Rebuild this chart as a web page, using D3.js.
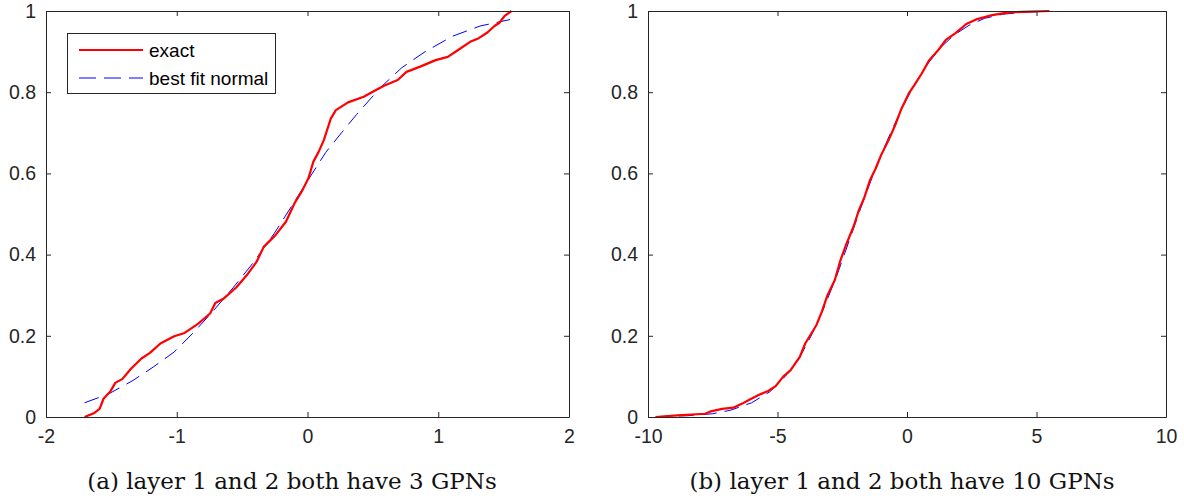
<!DOCTYPE html>
<html>
<head>
<meta charset="utf-8">
<script src="https://cdn.jsdelivr.net/npm/d3@7"></script>
<style>
  body { margin: 0; background: #fff; }
  svg { display: block; }
</style>
</head>
<body>
<script>
// panel (a): values
const exactAX = [-1.705, -1.63, -1.59, -1.56, -1.51, -1.47, -1.415, -1.35, -1.27, -1.205, -1.125, -1.02, -0.94, -0.835, -0.745, -0.705, -0.64, -0.545, -0.465, -0.39, -0.335, -0.245, -0.165, -0.1, -0.045, 0.007, 0.045, 0.085, 0.125, 0.178, 0.217, 0.31, 0.43, 0.52, 0.585, 0.69, 0.757, 0.862, 0.98, 1.073, 1.152, 1.244, 1.31, 1.376, 1.43, 1.468, 1.508, 1.56];
const exactAY = [0, 0.01, 0.02, 0.045, 0.062, 0.084, 0.094, 0.119, 0.144, 0.158, 0.181, 0.199, 0.207, 0.23, 0.255, 0.281, 0.292, 0.319, 0.349, 0.382, 0.419, 0.448, 0.481, 0.526, 0.555, 0.588, 0.629, 0.653, 0.682, 0.735, 0.756, 0.775, 0.789, 0.805, 0.816, 0.83, 0.85, 0.863, 0.879, 0.887, 0.904, 0.924, 0.933, 0.947, 0.963, 0.971, 0.988, 1.0];
const normalAX = [-1.705, -1.52, -1.335, -1.18, -1.02, -0.86, -0.73, -0.57, -0.415, -0.255, -0.1, 0.007, 0.14, 0.26, 0.375, 0.56, 0.72, 0.9, 1.11, 1.32, 1.55];
const normalAY = [0.035, 0.057, 0.09, 0.123, 0.16, 0.212, 0.258, 0.318, 0.38, 0.452, 0.53, 0.585, 0.652, 0.7, 0.745, 0.812, 0.86, 0.9, 0.938, 0.963, 0.979];

// panel (b)
const exactBX = [-9.71, -8.86, -7.79, -7.57, -7.14, -6.71, -6.36, -6.07, -5.71, -5.36, -5.07, -4.79, -4.5, -4.14, -3.93, -3.5, -3.29, -3.07, -2.79, -2.57, -2.36, -2.07, -1.86, -1.64, -1.43, -1.21, -1.0, -0.71, -0.43, -0.21, 0.07, 0.29, 0.57, 0.86, 1.21, 1.5, 1.86, 2.29, 2.71, 3.29, 3.86, 4.43, 5.5];
const exactBY = [0, 0.004, 0.008, 0.014, 0.02, 0.023, 0.033, 0.043, 0.055, 0.064, 0.076, 0.099, 0.115, 0.148, 0.181, 0.226, 0.259, 0.3, 0.337, 0.386, 0.423, 0.468, 0.509, 0.542, 0.583, 0.612, 0.645, 0.682, 0.723, 0.76, 0.797, 0.818, 0.846, 0.879, 0.904, 0.929, 0.945, 0.968, 0.98, 0.99, 0.996, 0.998, 1.0];
const normalBX = [-9.7, -8.5, -7.5, -6.8, -6.0, -5.3, -4.7, -4.2, -3.7, -3.2, -2.7, -2.2, -1.7, -1.2, -0.7, -0.2, 0.3, 0.8, 1.3, 1.8, 2.4, 3.0, 3.7, 4.5, 5.4];
const normalBY = [0.001, 0.003, 0.008, 0.017, 0.035, 0.062, 0.1, 0.14, 0.2, 0.27, 0.35, 0.44, 0.53, 0.615, 0.69, 0.76, 0.82, 0.87, 0.91, 0.94, 0.965, 0.982, 0.992, 0.997, 0.999];

const ticksAX = [-2, -1, 0, 1, 2];
const ticksBX = [-10, -5, 0, 5, 10];
const ticksY = [0, 0.2, 0.4, 0.6, 0.8, 1];
const seriesNames = ["exact", "best fit normal"];
const captions = ["(a) layer 1 and 2 both have 3 GPNs", "(b) layer 1 and 2 both have 10 GPNs"];

const W = 1184, H = 501;
const axisColor = "#262626";

const svg = d3.select("body").append("svg")
  .attr("width", W)
  .attr("height", H);

const panels = [
  { x0: 46, x1: 569, dom: [-2, 2], ticks: ticksAX, ex: exactAX, ey: exactAY, nx: normalAX, ny: normalAY, cap: captions[0], capX: 292, legend: true },
  { x0: 648, x1: 1166, dom: [-10, 10], ticks: ticksBX, ex: exactBX, ey: exactBY, nx: normalBX, ny: normalBY, cap: captions[1], capX: 902, legend: false }
];
const plotTop = 11, plotBottom = 417;

// matlab style labels: plain hyphen for negatives
const fmt = d => String(d);

panels.forEach(p => {
  const x = d3.scaleLinear().domain(p.dom).range([p.x0, p.x1]);
  const y = d3.scaleLinear().domain([0, 1]).range([plotBottom, plotTop]);
  const g = svg.append("g");

  const line = d3.line().x(d => x(d[0])).y(d => y(d[1]));

  // fitted normal, dashed blue
  g.append("path")
    .datum(d3.zip(p.nx, p.ny))
    .attr("d", line)
    .attr("fill", "none")
    .attr("stroke", "#0000ff")
    .attr("stroke-width", 1)
    .attr("stroke-dasharray", "15,8");

  // exact, solid red
  g.append("path")
    .datum(d3.zip(p.ex, p.ey))
    .attr("d", line)
    .attr("fill", "none")
    .attr("stroke", "#ff0000")
    .attr("stroke-width", 2.2)
    .attr("stroke-linejoin", "round");

  // axes, ticks pointing inwards, box on all sides
  const bx = g.append("g").attr("transform", `translate(0,${plotBottom})`)
    .call(d3.axisBottom(x).tickValues(p.ticks).tickFormat(fmt).tickSizeInner(-5).tickSizeOuter(0).tickPadding(12));
  const tx = g.append("g").attr("transform", `translate(0,${plotTop})`)
    .call(d3.axisTop(x).tickValues(p.ticks).tickFormat("").tickSizeInner(-5).tickSizeOuter(0));
  const ly = g.append("g").attr("transform", `translate(${p.x0},0)`)
    .call(d3.axisLeft(y).tickValues(ticksY).tickFormat(fmt).tickSizeInner(-5).tickSizeOuter(0).tickPadding(10));
  const ry = g.append("g").attr("transform", `translate(${p.x1},0)`)
    .call(d3.axisRight(y).tickValues(ticksY).tickFormat("").tickSizeInner(-5).tickSizeOuter(0));

  [bx, tx, ly, ry].forEach(a => {
    a.selectAll("path, line").attr("stroke", axisColor).attr("stroke-width", 1);
    a.selectAll("text")
      .attr("fill", axisColor)
      .style("font-family", "'Liberation Sans', Arial, sans-serif")
      .style("font-size", "19.5px");
  });
  bx.selectAll("text").attr("dy", "0.71em");

  // caption
  svg.append("text")
    .attr("x", p.capX)
    .attr("y", 489)
    .attr("text-anchor", "middle")
    .style("font-family", "'DejaVu Serif', serif")
    .style("font-size", "23px")
    .attr("fill", "#111")
    .text(p.cap);

  if (p.legend) {
    const lg = g.append("g");
    lg.append("rect")
      .attr("x", 67.5).attr("y", 33.5)
      .attr("width", 208).attr("height", 60)
      .attr("fill", "#fff")
      .attr("stroke", axisColor)
      .attr("stroke-width", 1);
    const rows = [
      { name: seriesNames[0], color: "#ff0000", w: 2.2, dash: null, ly: 50 },
      { name: seriesNames[1], color: "#0000ff", w: 1, dash: "17,8", ly: 78 }
    ];
    rows.forEach(r => {
      lg.append("line")
        .attr("x1", 79).attr("x2", 143)
        .attr("y1", r.ly).attr("y2", r.ly)
        .attr("stroke", r.color)
        .attr("stroke-width", r.w)
        .attr("stroke-dasharray", r.dash);
      lg.append("text")
        .attr("x", 149)
        .attr("y", r.ly)
        .attr("dy", "0.35em")
        .attr("fill", "#000")
        .style("font-family", "'Liberation Sans', Arial, sans-serif")
        .style("font-size", "19px")
        .text(r.name);
    });
  }
});
</script>
</body>
</html>
